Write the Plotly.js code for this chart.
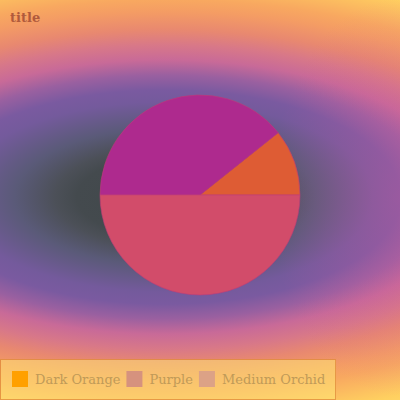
<!DOCTYPE html>
<html>
<head>
<meta charset="utf-8">
<script src="https://cdn.plot.ly/plotly-3.0.1.min.js"></script>
<style>
  html, body { margin: 0; padding: 0; width: 400px; height: 400px; overflow: hidden; }
  #wrap { position: relative; width: 400px; height: 400px;
    background:
      radial-gradient(ellipse 130px 200px at 400px 197px, rgba(205,90,160,0.38), rgba(205,90,160,0) 100%),
      radial-gradient(ellipse 572px 260px at 165px 197px,
      #40484a 0%, #444a4e 15.4%, #4c5058 19.2%, #5a5a78 26.2%, #745a9c 36.5%, #7a5aa0 41.2%,
      #9a60a0 46.9%, #c86a98 52.7%, #d87888 58.5%, #e88870 64.2%, #f49c64 71.2%, #f8a860 75.8%,
      #ffd060 86.5%, #ffe880 100%); }
  #chart { position: absolute; left: 0; top: 0; width: 400px; height: 400px; }
</style>
</head>
<body>
<div id="wrap"><div id="chart"></div></div>
<script>
const labels = ["Dark Orange", "Purple", "Medium Orchid"];
const values = [15, 55, 70];
const sliceColors = ["#de5c34", "#ae2a8e", "#d24c6a"];
const legendSwatchColors = ["#ffa000", "#d6927e", "#dca286"];

const trace = {
  type: "pie",
  labels: labels,
  values: values,
  sort: false,
  direction: "counterclockwise",
  rotation: 51.43,
  textinfo: "none",
  hoverinfo: "label+value",
  marker: { colors: sliceColors, line: { color: "rgba(190,60,120,0.6)", width: 1 } },
  domain: { x: [0.25, 0.75], y: [0.2625, 0.7625] }
};

const layout = {
  width: 400, height: 400,
  margin: { l: 0, r: 0, t: 0, b: 0 },
  paper_bgcolor: "rgba(0,0,0,0)",
  plot_bgcolor: "rgba(0,0,0,0)",
  font: { family: "DejaVu Serif", size: 13, color: "#c09a58" },
  title: { text: "<b>title</b>", x: 0.025, xanchor: "left", y: 0.9575, yanchor: "middle",
           xref: "container", yref: "container",
           font: { family: "DejaVu Serif", size: 13, color: "#b05a3c" } },
  showlegend: true,
  legend: {
    orientation: "h", x: 0, xanchor: "left", y: 0, yanchor: "bottom",
    bgcolor: "rgba(255,236,120,0.5)", bordercolor: "rgba(225,140,60,0.8)", borderwidth: 1,
    font: { family: "DejaVu Serif", size: 13, color: "#c09a58" }
  }
};

function tidyLegend(gd) {
  const legend = gd.querySelector(".legend");
  if (!legend) return;
  const boxH = 40, symX = 20, textX = 35, gapAfter = -6, padR = 10;
  const items = legend.querySelectorAll(".traces");
  let x = 0, lastEnd = 0;
  items.forEach(function (g, i) {
    const txt = g.querySelector(".legendtext");
    const w = txt ? txt.getComputedTextLength() : 0;
    g.setAttribute("transform", "translate(" + x + "," + (boxH / 2) + ")");
    if (txt) txt.setAttribute("x", textX);
    const p = g.querySelector(".legendpoints path");
    if (p) {
      p.setAttribute("d", "M8,8H-8V-8H8Z");
      p.setAttribute("transform", "translate(" + symX + ",0)");
      p.style.fill = legendSwatchColors[i];
      p.style.stroke = "none";
    }
    lastEnd = x + textX + w;
    x = x + textX + w + gapAfter;
  });
  const W = lastEnd + padR;
  const bg = legend.querySelector("rect.bg");
  if (bg) { bg.setAttribute("width", W); bg.setAttribute("height", boxH); }
  legend.setAttribute("transform", "translate(0," + (gd._fullLayout.height - boxH - 1) + ")");
  gd.querySelectorAll("clipPath[id^='legend'] rect").forEach(function (r) {
    r.setAttribute("width", W); r.setAttribute("height", boxH);
  });
}

Plotly.newPlot("chart", [trace], layout, { displayModeBar: false, staticPlot: true }).then(tidyLegend);
</script>
</body>
</html>
